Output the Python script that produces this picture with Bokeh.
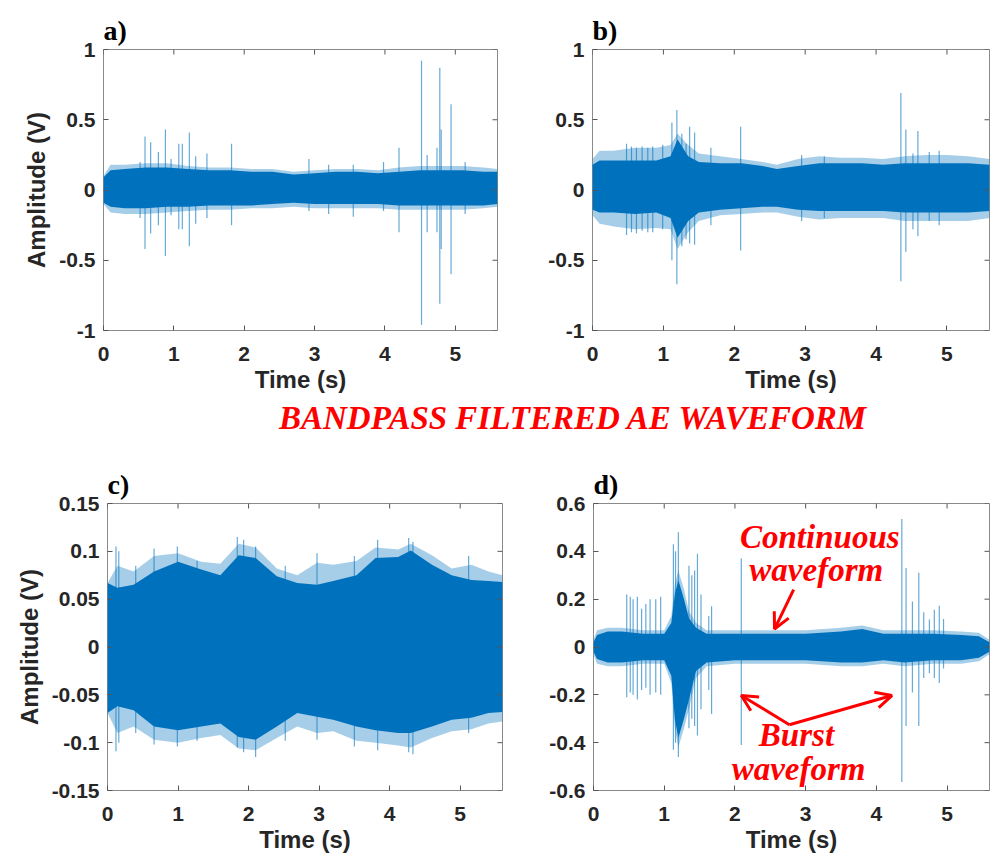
import math
from bokeh.plotting import figure
from bokeh.models import FixedTicker, Range1d, Arrow, OpenHead
from bokeh.layouts import column, row
from bokeh.embed import file_html
from bokeh.resources import INLINE
from bokeh.core.properties import value

# ---------------- data ----------------
x_ticks = [0, 1, 2, 3, 4, 5]
x_tick_labels = ["0", "1", "2", "3", "4", "5"]

y_ticks_ab = [-1, -0.5, 0, 0.5, 1]
y_labels_ab = ["-1", "-0.5", "0", "0.5", "1"]
y_ticks_c = [-0.15, -0.1, -0.05, 0, 0.05, 0.1, 0.15]
y_labels_c = ["-0.15", "-0.1", "-0.05", "0", "0.05", "0.1", "0.15"]
y_ticks_d = [-0.6, -0.4, -0.2, 0, 0.2, 0.4, 0.6]
y_labels_d = ["-0.6", "-0.4", "-0.2", "0", "0.2", "0.4", "0.6"]

# panel a) envelope of the dense waveform
a_t = [0, 0.1, 0.3, 0.6, 0.9, 1.2, 1.5, 1.8, 2.1, 2.4, 2.7, 3.0, 3.3, 3.6, 3.9, 4.2, 4.5, 4.8, 5.1, 5.4, 5.6]
a_core_hi = [0.09, 0.14, 0.15, 0.16, 0.16, 0.15, 0.14, 0.14, 0.13, 0.13, 0.11, 0.12, 0.13, 0.13, 0.12, 0.13, 0.14, 0.14, 0.14, 0.13, 0.13]
a_core_lo = [-0.09, -0.12, -0.13, -0.13, -0.12, -0.12, -0.11, -0.11, -0.11, -0.10, -0.09, -0.10, -0.10, -0.10, -0.10, -0.11, -0.11, -0.11, -0.11, -0.11, -0.10]
a_env_hi = [0.10, 0.18, 0.18, 0.19, 0.19, 0.17, 0.16, 0.16, 0.15, 0.15, 0.13, 0.14, 0.15, 0.15, 0.14, 0.16, 0.17, 0.17, 0.17, 0.16, 0.15]
a_env_lo = [-0.10, -0.16, -0.17, -0.17, -0.16, -0.15, -0.14, -0.14, -0.13, -0.13, -0.12, -0.13, -0.13, -0.13, -0.13, -0.14, -0.14, -0.14, -0.14, -0.13, -0.12]
# panel a) burst spikes
a_spk_t = [0.52, 0.59, 0.67, 0.78, 0.88, 0.96, 1.07, 1.12, 1.22, 1.31, 1.47, 1.82, 2.92, 3.20, 3.55, 3.98, 4.20, 4.52, 4.60, 4.74, 4.78, 4.80, 4.94, 5.14]
a_spk_hi = [0.20, 0.38, 0.34, 0.27, 0.43, 0.22, 0.33, 0.33, 0.41, 0.24, 0.26, 0.33, 0.22, 0.18, 0.18, 0.20, 0.30, 0.92, 0.25, 0.30, 0.87, 0.43, 0.61, 0.20]
a_spk_lo = [-0.20, -0.42, -0.31, -0.25, -0.47, -0.18, -0.28, -0.28, -0.40, -0.24, -0.20, -0.25, -0.15, -0.17, -0.19, -0.15, -0.30, -0.96, -0.30, -0.30, -0.81, -0.42, -0.60, -0.17]

# panel b)
b_t = [0, 0.1, 0.3, 0.6, 0.9, 1.1, 1.2, 1.35, 1.5, 1.8, 2.1, 2.4, 2.6, 2.9, 3.2, 3.5, 3.8, 4.1, 4.4, 4.7, 5.0, 5.3, 5.6]
b_core_hi = [0.18, 0.21, 0.21, 0.21, 0.21, 0.24, 0.36, 0.24, 0.20, 0.19, 0.19, 0.17, 0.15, 0.17, 0.19, 0.19, 0.19, 0.18, 0.19, 0.19, 0.19, 0.19, 0.18]
b_core_lo = [-0.14, -0.16, -0.16, -0.17, -0.16, -0.20, -0.34, -0.22, -0.16, -0.14, -0.13, -0.12, -0.12, -0.14, -0.15, -0.15, -0.15, -0.15, -0.16, -0.16, -0.16, -0.16, -0.15]
b_env_hi = [0.22, 0.28, 0.28, 0.30, 0.30, 0.32, 0.40, 0.32, 0.26, 0.24, 0.22, 0.20, 0.18, 0.22, 0.24, 0.23, 0.23, 0.22, 0.24, 0.25, 0.25, 0.24, 0.22]
b_env_lo = [-0.18, -0.24, -0.26, -0.28, -0.27, -0.28, -0.42, -0.30, -0.22, -0.18, -0.17, -0.16, -0.16, -0.19, -0.21, -0.20, -0.20, -0.20, -0.22, -0.22, -0.22, -0.22, -0.20]
b_spk_t = [0.48, 0.55, 0.62, 0.70, 0.78, 0.85, 0.99, 1.12, 1.19, 1.26, 1.32, 1.37, 1.44, 1.67, 2.09, 2.95, 3.27, 4.35, 4.42, 4.52, 4.59, 4.75, 4.89]
b_spk_hi = [0.33, 0.31, 0.30, 0.31, 0.30, 0.31, 0.32, 0.48, 0.57, 0.40, 0.33, 0.45, 0.41, 0.30, 0.45, 0.25, 0.24, 0.69, 0.43, 0.26, 0.42, 0.27, 0.28]
b_spk_lo = [-0.32, -0.30, -0.31, -0.29, -0.30, -0.30, -0.28, -0.50, -0.67, -0.40, -0.35, -0.38, -0.39, -0.25, -0.43, -0.22, -0.20, -0.65, -0.44, -0.28, -0.33, -0.22, -0.25]

# panel c)
c_t = [0, 0.14, 0.37, 0.66, 1.0, 1.33, 1.6, 1.86, 2.1, 2.4, 2.69, 2.97, 3.2, 3.53, 3.8, 4.12, 4.3, 4.6, 4.88, 5.16, 5.4, 5.6]
c_core_hi = [0.067, 0.062, 0.065, 0.079, 0.089, 0.081, 0.075, 0.096, 0.093, 0.074, 0.067, 0.065, 0.069, 0.075, 0.093, 0.094, 0.101, 0.086, 0.075, 0.070, 0.069, 0.068]
c_core_lo = [-0.069, -0.062, -0.066, -0.083, -0.087, -0.083, -0.080, -0.094, -0.097, -0.083, -0.069, -0.073, -0.076, -0.083, -0.087, -0.090, -0.090, -0.083, -0.076, -0.074, -0.069, -0.068]
c_env_hi = [0.067, 0.085, 0.079, 0.095, 0.098, 0.089, 0.087, 0.108, 0.104, 0.082, 0.075, 0.088, 0.086, 0.090, 0.104, 0.102, 0.108, 0.096, 0.082, 0.086, 0.079, 0.075]
c_env_lo = [-0.069, -0.090, -0.083, -0.097, -0.100, -0.095, -0.092, -0.106, -0.108, -0.095, -0.083, -0.090, -0.088, -0.098, -0.100, -0.103, -0.105, -0.095, -0.088, -0.086, -0.080, -0.078]
c_spk_t = [0.12, 0.16, 0.40, 0.66, 0.99, 1.27, 1.84, 1.93, 2.10, 2.52, 2.97, 3.50, 3.83, 4.27, 4.33, 5.12]
c_spk_hi = [0.105, 0.100, 0.085, 0.103, 0.105, 0.090, 0.115, 0.112, 0.105, 0.085, 0.098, 0.095, 0.112, 0.114, 0.110, 0.095]
c_spk_lo = [-0.109, -0.100, -0.090, -0.102, -0.104, -0.098, -0.105, -0.110, -0.115, -0.098, -0.097, -0.104, -0.108, -0.110, -0.112, -0.090]

# panel d)
d_t = [0, 0.05, 0.2, 0.4, 0.7, 1.0, 1.1, 1.15, 1.2, 1.28, 1.35, 1.45, 1.6, 2.0, 2.5, 3.0, 3.5, 3.8, 4.1, 4.4, 4.8, 5.2, 5.45, 5.6]
d_core_hi = [0.02, 0.05, 0.065, 0.065, 0.055, 0.055, 0.10, 0.22, 0.28, 0.20, 0.12, 0.08, 0.055, 0.055, 0.055, 0.055, 0.065, 0.075, 0.055, 0.055, 0.055, 0.05, 0.045, 0.02]
d_core_lo = [-0.02, -0.05, -0.065, -0.065, -0.055, -0.055, -0.12, -0.30, -0.38, -0.30, -0.22, -0.10, -0.065, -0.055, -0.055, -0.055, -0.065, -0.065, -0.055, -0.065, -0.055, -0.055, -0.045, -0.02]
d_env_hi = [0.03, 0.07, 0.08, 0.08, 0.07, 0.07, 0.13, 0.26, 0.32, 0.24, 0.15, 0.10, 0.07, 0.07, 0.07, 0.07, 0.08, 0.09, 0.07, 0.07, 0.07, 0.065, 0.06, 0.03]
d_env_lo = [-0.03, -0.07, -0.08, -0.08, -0.07, -0.07, -0.15, -0.34, -0.42, -0.34, -0.26, -0.13, -0.08, -0.07, -0.07, -0.07, -0.08, -0.08, -0.07, -0.08, -0.07, -0.07, -0.06, -0.03]
d_spk_t = [0.47, 0.52, 0.56, 0.62, 0.68, 0.74, 0.80, 0.88, 0.95, 1.13, 1.16, 1.20, 1.35, 1.39, 1.43, 1.47, 1.52, 1.63, 1.67, 2.09, 4.36, 4.42, 4.51, 4.60, 4.67, 4.75, 4.82, 4.89, 4.95]
d_spk_hi = [0.22, 0.21, 0.20, 0.21, 0.16, 0.18, 0.20, 0.20, 0.21, 0.43, 0.40, 0.48, 0.34, 0.30, 0.32, 0.39, 0.22, 0.13, 0.17, 0.37, 0.535, 0.33, 0.19, 0.31, 0.145, 0.115, 0.156, 0.172, 0.117]
d_spk_lo = [-0.21, -0.19, -0.20, -0.22, -0.18, -0.17, -0.20, -0.19, -0.20, -0.43, -0.40, -0.46, -0.34, -0.30, -0.33, -0.37, -0.26, -0.18, -0.28, -0.41, -0.564, -0.33, -0.19, -0.33, -0.13, -0.11, -0.13, -0.15, -0.09]

# ---------------- styling ----------------
BLUE = "#0072BD"
TXT = "#262626"
TICK = "#555555"
SANS = "Liberation Sans"
SERIF = "Liberation Serif"
RED = "#ff0000"


def style_axis(ax, ticks, labels):
    ax.ticker = FixedTicker(ticks=ticks)
    ax.major_label_overrides = {t: l for t, l in zip(ticks, labels)}
    ax.minor_tick_line_color = None
    ax.major_tick_in = 5
    ax.major_tick_out = 0
    ax.major_tick_line_color = TICK
    ax.axis_line_color = None
    ax.major_label_text_font = SANS
    ax.major_label_text_font_style = "bold"
    ax.major_label_text_color = TXT
    ax.major_label_text_font_size = "21px"
    ax.axis_label_text_font = SANS
    ax.axis_label_text_font_style = "bold"
    ax.axis_label_text_color = TXT
    ax.axis_label_text_font_size = "24px"


def panel(tag, t, core_hi, core_lo, env_hi, env_lo, st, shi, slo,
          yr, yticks, ylabels, ylabel, width, height, bl, br, bt, bb):
    p = figure(width=width, height=height, x_range=Range1d(0, 5.6),
               y_range=Range1d(*yr), output_backend="svg", toolbar_location=None,
               min_border_left=bl, min_border_right=br,
               min_border_top=bt, min_border_bottom=bb)
    p.grid.visible = False
    p.outline_line_color = "#8a8a8a"
    p.outline_line_width = 1
    p.background_fill_color = "white"
    p.border_fill_color = "white"

    p.varea(x=t, y1=env_lo, y2=env_hi, fill_color=BLUE, fill_alpha=0.35)
    p.segment(x0=st, y0=slo, x1=st, y1=shi, line_color=BLUE, line_alpha=0.6, line_width=1.2)
    p.varea(x=t, y1=core_lo, y2=core_hi, fill_color=BLUE, fill_alpha=1.0)

    # mirrored ticks on the top and right edges of the box
    p.ray(x=x_ticks, y=[yr[1]] * len(x_ticks), length=5, length_units="screen",
          angle=-math.pi / 2, line_color=TICK, line_width=1)
    p.ray(x=[5.6] * len(yticks), y=yticks, length=5, length_units="screen",
          angle=math.pi, line_color=TICK, line_width=1)

    style_axis(p.xaxis[0], x_ticks, x_tick_labels)
    p.xaxis[0].axis_label = "Time (s)"
    p.xaxis[0].major_label_standoff = 16
    p.xaxis[0].axis_label_standoff = 2
    style_axis(p.yaxis[0], yticks, ylabels)
    p.yaxis[0].axis_label = ylabel
    p.yaxis[0].major_label_standoff = 8
    p.yaxis[0].axis_label_standoff = 6

    p.title.text = tag
    p.title.text_font = SERIF
    p.title.text_font_style = "bold"
    p.title.text_font_size = "28px"
    p.title.text_color = "black"
    p.title.align = "left"
    p.title.standoff = 7
    return p


pa = panel("a)", a_t, a_core_hi, a_core_lo, a_env_hi, a_env_lo, a_spk_t, a_spk_hi, a_spk_lo,
           (-1, 1), y_ticks_ab, y_labels_ab, "Amplitude (V)", 500, 397, 103, 3, 49, 67)
pb = panel("b)", b_t, b_core_hi, b_core_lo, b_env_hi, b_env_lo, b_spk_t, b_spk_hi, b_spk_lo,
           (-1, 1), y_ticks_ab, y_labels_ab, None, 490, 397, 92, 1, 47, 66)
pc = panel("c)", c_t, c_core_hi, c_core_lo, c_env_hi, c_env_lo, c_spk_t, c_spk_hi, c_spk_lo,
           (-0.15, 0.15), y_ticks_c, y_labels_c, "Amplitude (V)", 505, 415, 107, 3, 63, 62)
pd_ = panel("d)", d_t, d_core_hi, d_core_lo, d_env_hi, d_env_lo, d_spk_t, d_spk_hi, d_spk_lo,
            (-0.6, 0.6), y_ticks_d, y_labels_d, None, 485, 415, 88, 1, 61, 64)

# annotations in d)
for (tx, ty, s) in [(3.2, 0.46, "Continuous"), (3.15, 0.32, "waveform"),
                    (2.87, -0.37, "Burst"), (2.9, -0.51, "waveform")]:
    pd_.text(x=[tx], y=[ty], text=[s], text_font=value(SERIF), text_font_style="bold italic",
             text_font_size="33px", text_color=RED, text_align="center", text_baseline="middle")
for (xs, ys, xe, ye) in [(2.83, 0.24, 2.56, 0.075), (2.77, -0.325, 2.09, -0.203), (2.77, -0.325, 4.22, -0.203)]:
    pd_.add_layout(Arrow(end=OpenHead(size=16, line_color=RED, line_width=3),
                         x_start=xs, y_start=ys, x_end=xe, y_end=ye,
                         line_color=RED, line_width=3))

# central caption
pt = figure(width=990, height=43, x_range=Range1d(0, 990), y_range=Range1d(0, 43),
            output_backend="svg", toolbar_location=None, min_border=0)
pt.axis.visible = False
pt.grid.visible = False
pt.outline_line_color = None
pt.text(x=[573], y=[23], text=["BANDPASS FILTERED AE WAVEFORM"], text_font=value(SERIF),
        text_font_style="bold italic", text_font_size="33px", text_color=RED,
        text_align="center", text_baseline="middle")

layout = column(row(pa, pb), pt, row(pc, pd_))
open("out.html", "w").write(file_html(layout, INLINE))
